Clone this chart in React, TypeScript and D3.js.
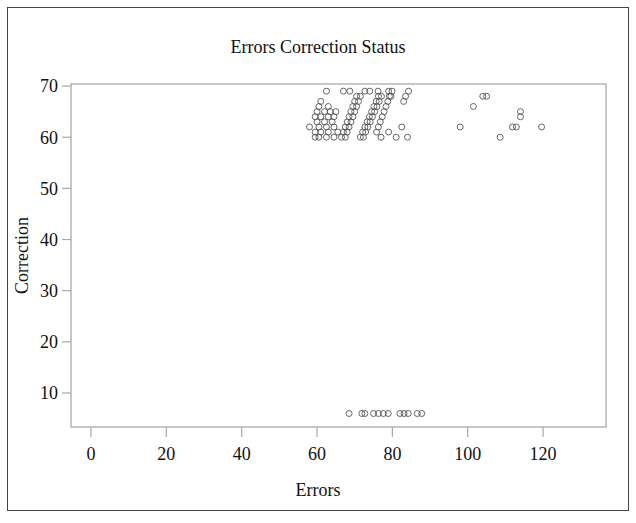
import React from "react";
import * as d3 from "d3";

// errors / correction pairs, one pair of arrays per group
const blobErrors = [62.5, 61, 60.5, 63, 60, 62, 63.5, 65, 59.5, 61, 63, 64.5, 60, 62, 64, 58, 60.5, 62.5, 64.5, 59.5, 61, 63, 65.5, 59.5, 60.5, 62.5, 64.5];
const blobCorrection = [69, 67, 66, 66, 65, 65, 65, 65, 64, 64, 64, 64, 63, 63, 63, 62, 62, 62, 62, 61, 61, 61, 61, 60, 60, 60, 60];

const stripe1Errors = [66.5, 67.5, 67, 68, 67.5, 68.5, 68, 69, 68.5, 69.5, 69, 70, 69.5, 70.5, 70, 71, 70.5, 71.5, 67, 68.7];
const stripe1Correction = [60, 60, 61, 61, 62, 62, 63, 63, 64, 64, 65, 65, 66, 66, 67, 67, 68, 68, 69, 69];

const stripe2Errors = [71.5, 72.3, 72.1, 72.9, 72.7, 73.5, 73.3, 74.1, 73.9, 74.7, 74.5, 75.3, 75.1, 75.9, 75.7, 76.5, 76.3, 77.1, 72.7, 74];
const stripe2Correction = [60, 60, 61, 61, 62, 62, 63, 63, 64, 64, 65, 65, 66, 66, 67, 67, 68, 68, 69, 69];

const stripe3Errors = [75.8, 76.3, 76.8, 77.3, 77.8, 78.3, 78.8, 79.2, 79.6, 76.2, 79, 79.9];
const stripe3Correction = [61, 62, 63, 64, 65, 66, 67, 68, 68, 69, 69, 69];

const looseErrors = [77, 79, 81, 82.5, 84, 83, 83.5, 84.3];
const looseCorrection = [60, 61, 60, 62, 60, 67, 68, 69];

const farErrors = [98, 101.5, 104, 105, 108.6, 111.9, 112.9, 114, 114, 119.6];
const farCorrection = [62, 66, 68, 68, 60, 62, 62, 65, 64, 62];

const lowErrors = [68.5, 71.9, 72.7, 75, 76.3, 77.6, 78.9, 82, 83.1, 84.2, 86.6, 87.8];
const lowCorrection = [6, 6, 6, 6, 6, 6, 6, 6, 6, 6, 6, 6];

const xTicks = [0, 20, 40, 60, 80, 100, 120];
const yTicks = [10, 20, 30, 40, 50, 60, 70];

const W = 636;
const H = 523;
const plot = { left: 71, right: 606, top: 84, bottom: 427 };
const font = "'Liberation Serif', 'Times New Roman', serif";

const groups: [number[], number[]][] = [
  [blobErrors, blobCorrection],
  [stripe1Errors, stripe1Correction],
  [stripe2Errors, stripe2Correction],
  [stripe3Errors, stripe3Correction],
  [looseErrors, looseCorrection],
  [farErrors, farCorrection],
  [lowErrors, lowCorrection]
];

export default function App() {
  const x = d3.scaleLinear().domain([-5.3, 136.7]).range([plot.left, plot.right]);
  const y = d3.scaleLinear().domain([3.36, 70.4]).range([plot.bottom, plot.top]);
  const points = groups.flatMap(([es, cs]) => es.map((e, i) => ({ e, c: cs[i] })));

  return (
    <svg
      width={W}
      height={H}
      style={{ position: "absolute", left: 0, top: 0, background: "#fff" }}
      fontFamily={font}
    >
      <rect x={7.5} y={7.5} width={621} height={503} fill="#fff" stroke="#444" strokeWidth={1} />
      <text x={318} y={53} textAnchor="middle" fontSize={18} fill="#111">
        Errors Correction Status
      </text>

      <rect
        x={plot.left}
        y={plot.top}
        width={plot.right - plot.left}
        height={plot.bottom - plot.top}
        fill="#fff"
        stroke="#b5b5b5"
        strokeWidth={1.5}
      />

      {yTicks.map((t) => (
        <g key={"y" + t} transform={`translate(0,${y(t)})`}>
          <line x1={plot.left - 9} x2={plot.left} stroke="#a8a8a8" strokeWidth={1.2} />
          <text x={plot.left - 13} dy="0.35em" textAnchor="end" fontSize={18} fill="#111">
            {t}
          </text>
        </g>
      ))}
      {xTicks.map((t) => (
        <g key={"x" + t} transform={`translate(${x(t)},0)`}>
          <line y1={plot.bottom} y2={plot.bottom + 10} stroke="#a8a8a8" strokeWidth={1.2} />
          <text y={plot.bottom + 27} dy="0.35em" textAnchor="middle" fontSize={18} fill="#111">
            {t}
          </text>
        </g>
      ))}

      <text x={318} y={496} textAnchor="middle" fontSize={18} fill="#111">
        Errors
      </text>
      <text
        transform={`translate(28,${(plot.top + plot.bottom) / 2}) rotate(-90)`}
        textAnchor="middle"
        fontSize={18}
        fill="#111"
      >
        Correction
      </text>

      {points.map((p, i) => (
        <circle
          key={i}
          cx={x(p.e)}
          cy={y(p.c)}
          r={3}
          fill="none"
          stroke="#555"
          strokeWidth={0.9}
        />
      ))}
    </svg>
  );
}
